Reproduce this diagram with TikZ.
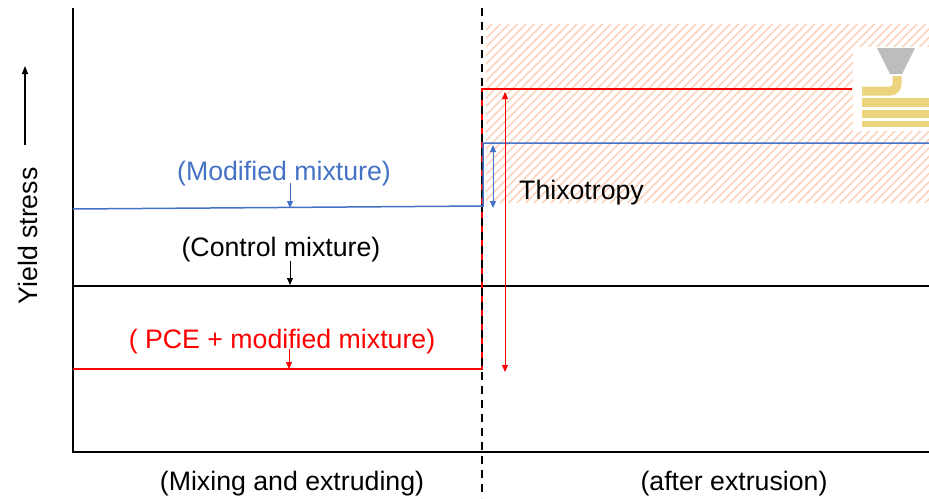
\documentclass[tikz,border=0pt]{standalone}
\usepackage{fontspec}
\setmainfont{Liberation Sans}
\usetikzlibrary{arrows.meta}
\definecolor{mblue}{HTML}{4472C4}
\definecolor{mred}{HTML}{FF0000}
\definecolor{peach}{HTML}{FBD3BC}
\definecolor{nozzle}{HTML}{BDBDBD}
\definecolor{filament}{HTML}{ECD37E}
\tikzset{
  lbl/.style={font=\fontsize{26.7}{30}\selectfont, inner sep=0pt},
  tip/.style={-{Triangle[width=6pt,length=7pt]}},
  dtip/.style={{Triangle[width=6pt,length=7pt]}-{Triangle[width=6pt,length=7pt]}},
  axisline/.style={line width=1.5pt, black},
}
\begin{document}
\begin{tikzpicture}[x=1pt, y=-1pt]
\useasboundingbox (0,0) rectangle (929,498);

% hatched band after extrusion
\begin{scope}
  \clip (486,24) rectangle (929,203);
  \foreach \k in {0,...,80}{
    \draw[peach, line width=1.6pt] ({486+\k*8.5-190},203) -- ({486+\k*8.5-190+179},24);
  }
\end{scope}

% printer icon
\fill[white] (853,47) rectangle (929,131);
\fill[nozzle] (877,48) -- (915,48) -- (902,74) -- (890,74) -- cycle;
\draw[filament, line width=9pt, rounded corners=7pt] (897,76) -- (897,91) -- (862,91);
\fill[filament] (862,98) rectangle (929,107);
\fill[filament] (862,110) rectangle (929,118);
\fill[filament] (862,121) rectangle (929,127);

% axes
\coordinate (origin) at (73,452);
\coordinate (ytop) at (73,8);
\coordinate (xend) at (929,452);
\draw[axisline] (ytop) -- (origin) -- (xend);

% control mixture level
\coordinate (c1) at (73,286);
\coordinate (c2) at (929,286);
\draw[line width=1.5pt] (c1) -- (c2);

% PCE + modified mixture
\coordinate (r1) at (73,369);
\coordinate (r2) at (482,369);
\coordinate (r3) at (482,89);
\coordinate (r4) at (852,89);
\draw[mred, line width=1.8pt] (r1) -- (r2) -- (r3) -- (r4);

% phase separator
\coordinate (s1) at (482,8);
\coordinate (s2) at (482,498);
\draw[black, line width=1.6pt, dash pattern=on 8pt off 6pt] (s1) -- (s2);

% modified mixture
\coordinate (b1) at (73,209);
\coordinate (b2) at (483,206);
\coordinate (b3) at (483,143);
\coordinate (b4) at (929,143);
\draw[mblue, line width=1.5pt] (b1) -- (b2) -- (b3) -- (b4);

% recovery arrows
\coordinate (ra1) at (505,92);
\coordinate (ra2) at (505,372);
\draw[mred, line width=0.9pt, dtip] (ra1) -- (ra2);
\coordinate (ba1) at (493,145);
\coordinate (ba2) at (493,208);
\draw[mblue, line width=0.9pt, dtip] (ba1) -- (ba2);

% labels
\node[lbl, text=mblue] (lmod) at (284,174) {(Modified mixture)};
\node[lbl] (lctl) at (281,250) {(Control mixture)};
\node[lbl, text=mred] (lpce) at (282,342) {( PCE + modified mixture)};
\node[lbl, anchor=west] (lthx) at (519,193) {Thixotropy};
\node[lbl] (lmix) at (292,484) {(Mixing and extruding)};
\node[lbl] (laft) at (734,484) {(after extrusion)};
\node[lbl, rotate=90] (lys) at (28,236) {Yield stress};

% label pointers
\coordinate (pm) at (290,208);
\coordinate (pc) at (290,285);
\coordinate (pp) at (289,369);
\draw[mblue, line width=0.8pt, tip] (290,183) -- (pm);
\draw[black, line width=0.8pt, tip] (290,261) -- (pc);
\draw[mred, line width=0.8pt, tip] (289,349) -- (pp);

% axis direction
\coordinate (ya1) at (25,145);
\coordinate (ya2) at (25,66);
\draw[line width=1.3pt, -{Triangle[width=6pt,length=8pt]}] (ya1) -- (ya2);
\end{tikzpicture}
\end{document}
